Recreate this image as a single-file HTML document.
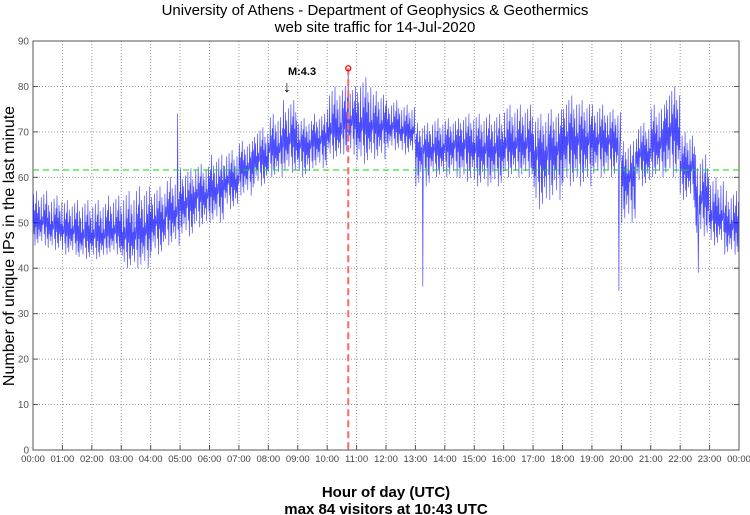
<!DOCTYPE html>
<html><head><meta charset="utf-8"><style>
body{margin:0;background:#fff;}
svg{display:block;font-family:"Liberation Sans",sans-serif;}
</style></head><body>
<svg id="chart" width="750" height="515">
<text x="375" y="15" text-anchor="middle" font-size="15">University of Athens - Department of Geophysics &amp; Geothermics</text>
<text x="375" y="32" text-anchor="middle" font-size="15">web site traffic for 14-Jul-2020</text>
<text transform="translate(14,246) rotate(-90)" text-anchor="middle" font-size="16">Number of unique IPs in the last minute</text>
<text x="386" y="497" text-anchor="middle" font-size="15" font-weight="bold">Hour of day (UTC)</text>
<text x="386" y="514" text-anchor="middle" font-size="15" font-weight="bold">max 84 visitors at 10:43 UTC</text>
<g id="grid"></g><g id="series"></g><g id="marks"></g>
</svg>
<script>
const yTicks=[0,10,20,30,40,50,60,70,80,90];
const xTickLabels=["00:00","01:00","02:00","03:00","04:00","05:00","06:00","07:00","08:00","09:00","10:00","11:00","12:00","13:00","14:00","15:00","16:00","17:00","18:00","19:00","20:00","21:00","22:00","23:00","00:00"];
// half-hour bins
const binLo=[45,44,43,42,42,43,40,40,43,45,47,49,50,53,56,58,60,61,60,62,64,65,63,64,66,65,58,60,60,59,58,58,60,60,53,55,58,58,60,60,50,58,60,60,55,47,45,43];
const binMid=[50,49,48,47,47,48,47,48,50,52,54,56,57,59,62,64,66,68,67,68,70,72,71,71,71,70,66,66,67,67,66,66,67,67,65,66,68,68,68,68,60,65,67,70,62,55,51,49];
const binHi=[57,56,55,55,55,56,57,58,58,60,62,63,65,66,68,71,74,77,73,74,80,80,82,79,77,76,72,73,73,74,74,74,76,76,74,75,78,77,76,75,68,72,76,80,70,65,60,57];
const spikeMin=[295,795,1195,1357];
const spikeVal=[74,36,35,39];
const meanLine=61.6;
const maxMinute=643, maxVal=84;
const annMinute=520, annText="M:4.3";

const L=33,R=739,T=41,B=450;
const X=m=>L+(R-L)*m/1440;
const Y=v=>B-(B-T)*v/90;
const NS="http://www.w3.org/2000/svg";
function mk(tag,attrs,parent){const e=document.createElementNS(NS,tag);for(const k in attrs)e.setAttribute(k,attrs[k]);parent.appendChild(e);return e;}
const grid=document.getElementById('grid'),ser=document.getElementById('series'),marks=document.getElementById('marks');
yTicks.forEach(v=>{
 if(v>0&&v<90){const g=mk('line',{x1:L,x2:R,y1:Y(v),y2:Y(v),stroke:'#999','stroke-dasharray':'1,2'},grid);
 
 }
 mk('line',{x1:L,x2:L+5,y1:Y(v),y2:Y(v),stroke:'#555'},grid);
 mk('line',{x1:R-5,x2:R,y1:Y(v),y2:Y(v),stroke:'#555'},grid);
 const t=mk('text',{x:L-4,y:Y(v)+3.5,'text-anchor':'end','font-size':10,fill:'#555'},grid);t.textContent=v;
 
 
});
xTickLabels.forEach((s,i)=>{
 const x=X(i*60);
 if(i>0&&i<24){const g=mk('line',{x1:x,x2:x,y1:T,y2:B,stroke:'#999','stroke-dasharray':'1,2'},grid);
 
 }
 mk('line',{x1:x,x2:x,y1:B-5,y2:B,stroke:'#555'},grid);
 const t=mk('text',{x:x,y:B+12,'text-anchor':'middle','font-size':9.5,fill:'#444'},grid);t.textContent=s;
 
 
});
const frame=mk('rect',{x:L,y:T,width:R-L,height:B-T,fill:'none',stroke:'#555'},grid);


// series: per-minute wiggle inside each bin
const jit=[0,0.9,-0.5,0.4,-1,0.6,-0.2,1,-0.7,0.3,-0.9,0.7,-0.3,0.5,-0.6,0.1,-0.4,0.8,-0.8,0.2,-0.1];
let pts=[];
for(let m=0;m<1440;m++){
 const b=Math.floor(m/30);let j=jit[m%jit.length];
 let v=binMid[b]+(j>=0?j*(binHi[b]-binMid[b]):j*(binMid[b]-binLo[b]));
 const si=spikeMin.indexOf(m);if(si>=0)v=spikeVal[si];
 if(m===maxMinute)v=maxVal;
 pts.push(X(m).toFixed(1)+','+Y(v).toFixed(1));
}
const line=mk('polyline',{points:pts.join(' '),fill:'none',stroke:'#0000ff','stroke-width':0.7,'stroke-opacity':0.7},ser);


const ml=mk('line',{x1:L,x2:R,y1:Y(meanLine),y2:Y(meanLine),stroke:'#00dd00','stroke-dasharray':'6,4'},marks);


const mx=mk('line',{x1:X(maxMinute),x2:X(maxMinute),y1:Y(maxVal),y2:B,stroke:'#ff6666','stroke-width':2,'stroke-dasharray':'7,4'},marks);


const mc=mk('circle',{cx:X(maxMinute),cy:Y(maxVal),r:2.5,fill:'none',stroke:'red','stroke-width':1.3},marks);


const at=mk('text',{x:X(annMinute),y:75,'font-size':11,'font-weight':'bold'},marks);at.textContent=annText;


const ar=mk('text',{x:X(annMinute)-5,y:92,'font-size':16},marks);ar.textContent='↓';


</script>
</body></html>
